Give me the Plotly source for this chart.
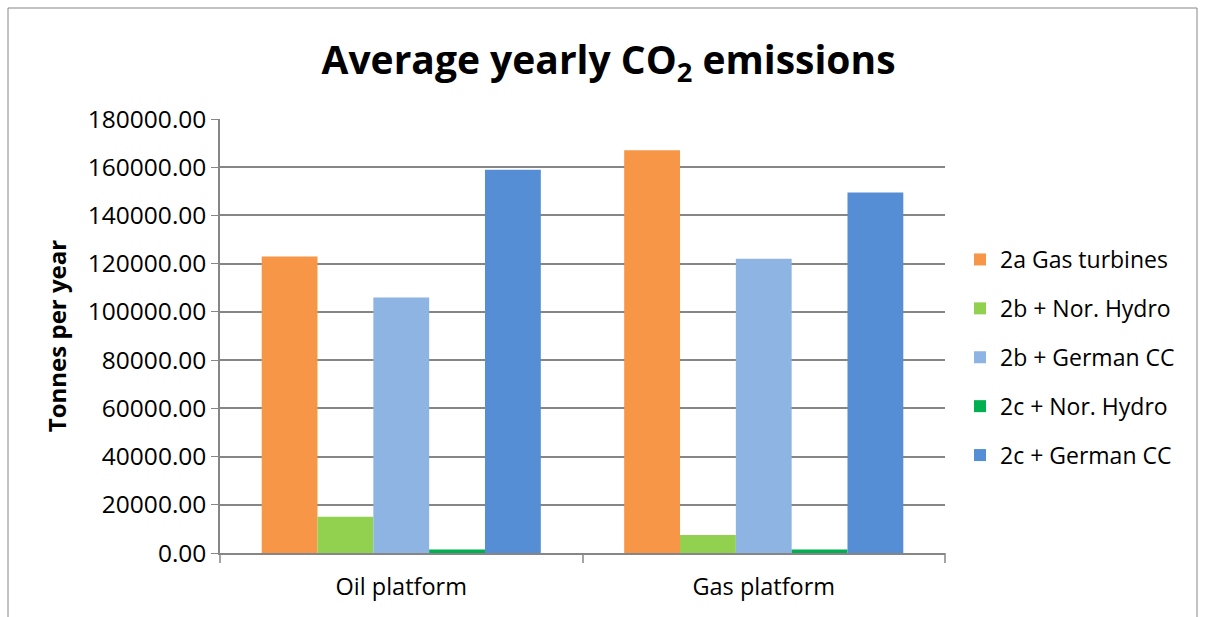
import plotly.graph_objects as go

categories = ["Oil platform", "Gas platform"]
series_names = ["2a Gas turbines", "2b + Nor. Hydro", "2b + German CC", "2c + Nor. Hydro", "2c + German CC"]
gas_turbines = [123000, 167000]
b_nor_hydro = [15000, 7500]
b_german_cc = [106000, 122000]
c_nor_hydro = [1500, 1500]
c_german_cc = [159000, 149500]
colors = ["#F79646", "#92D050", "#8EB4E3", "#00B050", "#558ED5"]
tick_vals = [0, 20000, 40000, 60000, 80000, 100000, 120000, 140000, 160000, 180000]

FONT = "'Open Sans', sans-serif"

fig = go.Figure()
for i, (name, vals) in enumerate(zip(series_names, [gas_turbines, b_nor_hydro, b_german_cc, c_nor_hydro, c_german_cc])):
    fig.add_trace(go.Bar(x=categories, y=vals, name=name, marker=dict(color=colors[i], line=dict(width=0)),
                         legendgroup=f"g{i}"))

W, H = 1205, 617
ml, mr, mt, mb = 220, 260, 119, 64
pw, ph = W - ml - mr, H - mt - mb

def px_x(p):
    return (p - ml) / pw

def px_y(p):
    return (H - mb - p) / ph

fig.update_layout(
    width=W, height=H,
    margin=dict(l=ml, r=mr, t=mt, b=mb, pad=0),
    paper_bgcolor="white", plot_bgcolor="white",
    barmode="group", bargap=0.23, bargroupgap=0,
    font=dict(family=FONT, color="black"),
    title=dict(text="Average yearly CO<sub>2</sub> emissions", x=0.505, xanchor="center",
               y=1 - 60 / H, yanchor="middle",
               font=dict(size=39, family=FONT, color="black", weight="bold")),
    legend=dict(x=px_x(960), xanchor="left", y=px_y(238), yanchor="top",
                font=dict(size=23, family=FONT), tracegroupgap=16, traceorder="grouped",
                itemwidth=30, bgcolor="rgba(0,0,0,0)"),
    xaxis=dict(showline=True, linecolor="#868686", linewidth=1.5, ticks="outside", ticklen=0,
               showgrid=False, tickfont=dict(size=23.5, family=FONT), ticklabelstandoff=12),
    yaxis=dict(range=[0, 180000], tickvals=tick_vals, tickformat=".2f",
               showgrid=True, gridcolor="#868686", gridwidth=1.5,
               showline=True, linecolor="#868686", linewidth=1.5,
               ticks="outside", ticklen=7, tickcolor="#868686",
               tickfont=dict(size=24.5, family=FONT), zeroline=False,
               title=dict(text="Tonnes per year", font=dict(size=24, family=FONT, weight="bold"), standoff=14)),
)

# category separator ticks on x axis
for xp in [220, 583, 945]:
    fig.add_shape(type="line", xref="paper", yref="paper", x0=px_x(xp), x1=px_x(xp),
                  y0=0, y1=px_y(563), line=dict(color="#868686", width=1.5))

# chart border
fig.add_shape(type="rect", xref="paper", yref="paper", x0=px_x(8), x1=px_x(1197),
              y0=px_y(640), y1=px_y(8), line=dict(color="#868686", width=1), layer="below")

fig.write_html("out.html")
